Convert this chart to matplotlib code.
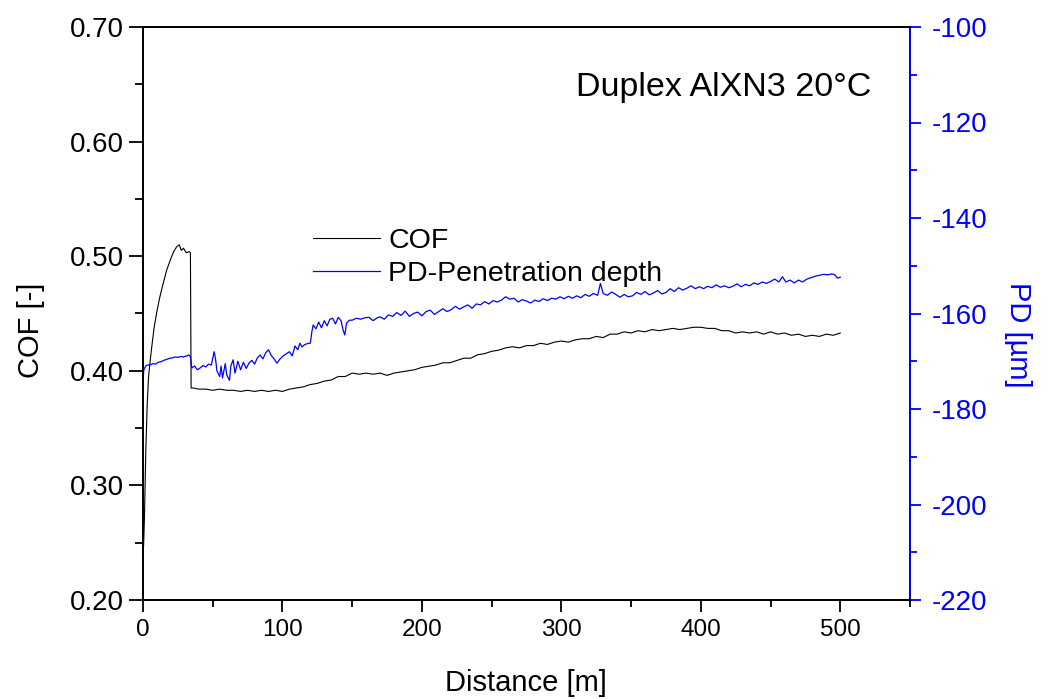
import matplotlib
matplotlib.use("Agg")
import matplotlib.pyplot as plt
from matplotlib.ticker import MultipleLocator, FormatStrFormatter

plt.rcParams['font.family'] = ['Liberation Sans', 'DejaVu Sans']
plt.rcParams['axes.unicode_minus'] = False

# COF data (distance [m], COF [-])
cof_x = [0, 0.5, 1, 1.5, 2, 3, 4, 5, 6, 8, 10, 12, 14, 17, 20, 22, 24, 26, 27.5, 29, 31, 33, 34,
         34.5, 36, 40, 45, 50, 55, 60, 65, 70, 75, 80, 85, 90, 95, 100,
         105, 110, 115, 120, 125, 130, 135, 140, 145, 150, 155, 160, 165, 170, 175, 180, 185, 190, 195, 200,
         205, 210, 215, 220, 225, 230, 235, 240, 245, 250, 255, 260, 265, 270, 275, 280, 285, 290, 295, 300,
         305, 310, 315, 320, 325, 330, 335, 340, 345, 350, 355, 360, 365, 370, 375, 380, 385, 390, 395, 400,
         405, 410, 415, 420, 425, 430, 435, 440, 445, 450, 455, 460, 465, 470, 475, 480, 485, 490, 495, 500]
cof_y = [0.237, 0.25, 0.27, 0.30, 0.33, 0.37, 0.395, 0.407, 0.418, 0.438, 0.452, 0.464, 0.474, 0.488, 0.498, 0.504, 0.508, 0.510, 0.505, 0.507, 0.503, 0.504, 0.503,
         0.385, 0.385, 0.384, 0.384, 0.383, 0.384, 0.383, 0.383, 0.382, 0.383, 0.382, 0.383, 0.382, 0.383, 0.382,
         0.384, 0.385, 0.386, 0.388, 0.389, 0.391, 0.392, 0.395, 0.395, 0.398, 0.397, 0.398, 0.397, 0.398, 0.396, 0.398, 0.399, 0.400, 0.401, 0.403,
         0.404, 0.405, 0.407, 0.407, 0.409, 0.411, 0.411, 0.414, 0.415, 0.417, 0.418, 0.420, 0.421, 0.420, 0.422, 0.422, 0.424, 0.423, 0.425, 0.426,
         0.425, 0.427, 0.428, 0.428, 0.430, 0.429, 0.432, 0.432, 0.434, 0.433, 0.435, 0.434, 0.436, 0.435, 0.436, 0.437, 0.436, 0.437, 0.438, 0.438,
         0.437, 0.437, 0.435, 0.435, 0.433, 0.434, 0.433, 0.434, 0.432, 0.434, 0.432, 0.433, 0.431, 0.432, 0.430, 0.431, 0.430, 0.432, 0.431, 0.433]

# Penetration depth data (distance [m], PD [um])
pd_x = [0, 0.5, 1, 2, 3, 5, 7, 9, 11, 13, 15, 17, 19, 21, 23, 25, 27, 29, 31, 33, 34,
        35, 37, 39, 41, 43, 45, 47, 49, 51, 52, 53, 55, 56, 57, 59, 60, 62, 63, 64.6, 66, 68, 70,
        72, 74, 76, 78, 80, 82, 84, 86, 88, 90, 92, 94, 96, 98, 100, 102, 105, 107, 109, 111, 112.5,
        114, 116, 118, 120, 121, 122, 124, 126, 128, 130, 132, 134, 136, 138, 140, 142, 143.5, 144.7,
        146, 148, 150, 153, 156, 159, 162, 165, 168, 170, 173, 176, 179, 182, 185, 188, 191, 194, 197,
        200, 203, 206, 209, 212, 215, 218, 221, 224, 227, 230, 233, 236, 239, 242, 245, 248, 251, 254,
        257, 260, 263, 266, 269, 272, 275, 278, 281, 284, 287, 290, 293, 296, 299, 302, 305, 308, 311,
        314, 317, 320, 323, 326, 328, 330, 333, 336, 339, 342, 345, 348, 351, 354, 357, 360, 363, 366,
        369, 372, 375, 378, 381, 384, 387, 390, 393, 396, 399, 402, 405, 408, 411, 414, 417, 420, 423,
        426, 429, 432, 435, 438, 441, 444, 447, 450, 453, 456, 458.5, 461, 464, 467, 470, 473, 476, 479,
        482, 485, 488, 491, 494, 496, 498, 500]
pd_y = [-174.6, -172.0, -171.5, -171.0, -170.8, -170.8, -170.5, -170.6, -170.2, -170.1, -169.8, -169.6, -169.4, -169.3, -169.1, -169.2, -169.0, -169.1, -168.9, -168.7, -169.0,
        -171.4, -171.0, -171.8, -171.4, -170.9, -171.2, -170.6, -170.8, -168.0, -169.5, -172.0, -173.2, -171.0, -173.5, -170.5, -172.8, -174.0, -171.0, -169.7, -172.5, -170.0, -171.8,
        -170.2, -171.5, -170.4, -169.8, -170.6, -169.3, -168.7, -169.5, -168.2, -167.6, -168.8, -169.5, -170.4, -169.6, -169.0, -168.6, -168.0, -168.9, -166.8, -167.6, -166.2,
        -167.0, -166.5, -166.3, -166.2, -164.0, -162.4, -163.2, -161.8, -163.0, -161.5, -162.6, -161.2, -161.0, -162.2, -160.8, -161.5, -163.5, -164.5,
        -162.0, -161.4, -161.4, -161.0, -161.2, -160.9, -160.8, -161.5, -160.9, -160.7, -161.2, -160.3, -160.6, -159.8, -160.4, -159.5, -160.6, -160.0, -159.7,
        -160.5, -159.6, -159.3, -160.2, -159.6, -159.0, -159.6, -159.2, -158.5, -159.1, -158.6, -158.2, -158.9, -158.0, -158.2, -157.5, -158.0, -157.3, -157.6,
        -157.2, -156.5, -157.0, -156.8, -157.6, -157.1, -157.4, -157.8, -157.2, -157.5, -156.9, -157.3, -156.8, -157.0, -156.5, -156.9, -156.4, -156.8, -156.3,
        -156.7, -156.0, -156.4, -155.8, -156.2, -153.7, -155.8, -156.2, -155.5, -156.0, -156.6, -156.0, -156.5, -156.3, -155.6, -156.0, -155.4, -156.1, -155.7,
        -155.2, -155.9, -155.6, -154.8, -155.4, -154.6, -155.1, -154.7, -154.2, -154.8, -154.4, -154.8, -154.3, -154.6, -154.0, -154.5, -154.2, -154.6, -154.3,
        -153.8, -154.4, -153.9, -154.2, -153.6, -153.9, -153.4, -153.7, -153.3, -152.8, -153.4, -152.3, -153.4, -153.0, -153.6, -153.0, -153.4, -152.8, -152.5,
        -152.2, -152.0, -151.8, -151.9, -151.7, -151.9, -152.6, -152.4]

W, H = 1049, 699
fig = plt.figure(figsize=(W / 100, H / 100), dpi=100)
L, R, T, B = 143, 910, 27, 600
ax = fig.add_axes([L / W, 1 - B / H, (R - L) / W, (B - T) / H])
ax2 = ax.twinx()

l1, = ax.plot(cof_x, cof_y, color='black', lw=0.8, label='COF')
l2, = ax2.plot(pd_x, pd_y, color='#0000ff', lw=0.9, label='PD-Penetration depth')

ax.set_xlim(0, 550)
ax.set_ylim(0.20, 0.70)
ax2.set_ylim(-220, -100)

ax.xaxis.set_major_locator(MultipleLocator(100))
ax.xaxis.set_minor_locator(MultipleLocator(50))
ax.yaxis.set_major_locator(MultipleLocator(0.1))
ax.yaxis.set_minor_locator(MultipleLocator(0.05))
ax.yaxis.set_major_formatter(FormatStrFormatter('%.2f'))
ax2.yaxis.set_major_locator(MultipleLocator(20))
ax2.yaxis.set_minor_locator(MultipleLocator(10))

for a in (ax, ax2):
    for s in a.spines.values():
        s.set_linewidth(1.3)
ax.tick_params(axis='y', which='major', direction='out', length=10, width=1.3, labelsize=20, pad=4)
ax.tick_params(axis='y', which='minor', direction='out', length=5.5, width=1.3)
ax.tick_params(axis='x', which='major', direction='out', length=8.5, width=1.3, labelsize=17.5, pad=5)
ax.tick_params(axis='x', which='minor', direction='out', length=5, width=1.3)
ax2.tick_params(axis='y', which='major', direction='out', length=8, width=1.3, labelsize=20,
                colors='#0000ff', pad=8)
ax2.tick_params(axis='y', which='minor', direction='out', length=5, width=1.3, colors='#0000ff')
ax2.spines['right'].set_color('#0000ff')

fig.text(526 / W, 1 - 683 / H, 'Distance [m]', fontsize=21, ha='center', va='center')
fig.text(31 / W, 1 - 330 / H, 'COF [-]', fontsize=21, ha='center', va='center', rotation=90)
fig.text(1018 / W, 1 - 335 / H, 'PD [µm]', fontsize=21, ha='center', va='center', rotation=270,
         color='#0000ff')

ax.text(0.95, 0.895, 'Duplex AlXN3 20°C', transform=ax.transAxes, ha='right', va='center',
        fontsize=24.5)

leg = ax2.legend([l1, l2], ['COF', 'PD-Penetration depth'], loc='upper left',
                 bbox_to_anchor=(313 / W, 1 - 228 / H), bbox_transform=fig.transFigure,
                 frameon=False, fontsize=20.5, handlelength=2.35, handletextpad=0.3,
                 labelspacing=0.25, borderpad=0, borderaxespad=0)

fig.savefig('out.png', dpi=100)
